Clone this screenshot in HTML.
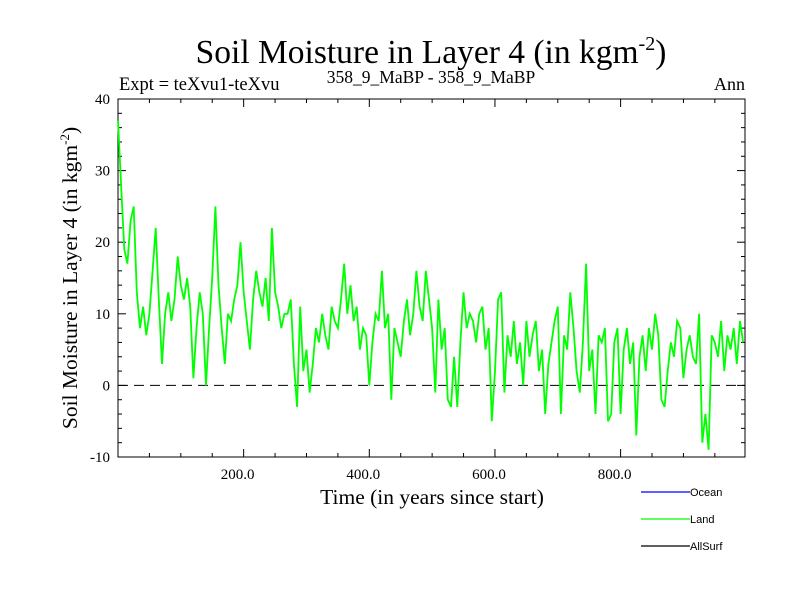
<!DOCTYPE html>
<html><head><meta charset="utf-8"><style>
body{margin:0;background:#fff;}
svg text{font-family:"Liberation Serif",serif;}
</style></head><body>
<svg id="chart" width="800" height="600" xmlns="http://www.w3.org/2000/svg">
<rect width="800" height="600" fill="#fff"/>
<text x="431" y="63" font-size="33.5" text-anchor="middle">Soil Moisture in Layer 4 (in kgm<tspan dy="-13" font-size="20">-2</tspan><tspan dy="13">)</tspan></text>
<text x="119" y="90" font-size="18.5">Expt = teXvu1-teXvu</text>
<text x="431" y="83" font-size="17.5" text-anchor="middle">358_9_MaBP - 358_9_MaBP</text>
<text x="745" y="90" font-size="18" text-anchor="end">Ann</text>
<text x="432" y="504" font-size="21.5" text-anchor="middle">Time (in years since start)</text>
<text transform="translate(77,278) rotate(-90)" font-size="21.5" text-anchor="middle">Soil Moisture in Layer 4 (in kgm<tspan dy="-8" font-size="13">-2</tspan><tspan dy="8">)</tspan></text>
<g id="axes"></g>
<g id="series"></g>
<g>
<line x1="641" y1="492" x2="690" y2="492" stroke="#0000ff" stroke-width="1.2"/>
<text x="690" y="496" font-size="11" style="font-family:'Liberation Sans',sans-serif">Ocean</text>
<line x1="641" y1="519" x2="690" y2="519" stroke="#00ff00" stroke-width="1.2"/>
<text x="690" y="523" font-size="11" style="font-family:'Liberation Sans',sans-serif">Land</text>
<line x1="641" y1="546" x2="690" y2="546" stroke="#000" stroke-width="1.2"/>
<text x="690" y="550" font-size="11" style="font-family:'Liberation Sans',sans-serif">AllSurf</text>
</g>
</svg>
<script>
const yTicks=[-10,0,10,20,30,40];
const xTicks=[200,400,600,800];
const xTickLabels=["200.0","400.0","600.0","800.0"];
const landStart=0, landStep=5;
const landValues=[37,28,19,17,23,25,13,8,11,7,
10,16,22,12,3,10,13,9,12,18,
14,12,15,11,1,8,13,10,0,8,
15,25,14,8,3,10,9,12,14,20,
13,9,5,12,16,13,11,15,9,22,
13,11,8,10,10,12,3,-3,11,2,
5,-1,3,8,6,10,7,5,11,9,
8,12,17,10,14,9,11,5,8,7,
0,6,10,9,16,8,10,-2,8,6,
4,9,12,7,10,16,11,9,16,12,
8,-1,12,5,8,-2,-3,4,-3,6,
13,8,10,9,6,10,11,5,8,-5,
2,12,13,-1,7,4,9,3,6,0,
9,4,7,9,2,5,-4,3,6,9,
11,-4,7,5,13,8,2,-1,6,17,
2,5,-4,7,6,8,-5,-4,6,8,
-4,5,8,3,6,-7,4,7,2,8,
5,10,7,-2,-3,2,6,4,9,8,
1,5,7,4,3,10,-8,-4,-9,7,
6,4,9,2,7,5,8,3,9,6];
</script>
<script>
const NS="http://www.w3.org/2000/svg";
const L=118,R=745,T=99,B=457,xMin=0,xMax=998,yMin=-10,yMax=40;
function sx(v){return L+(v-xMin)/(xMax-xMin)*(R-L);}
function sy(v){return B-(v-yMin)/(yMax-yMin)*(B-T);}
const ax=document.getElementById('axes');
function mk(tag,attrs,parent){const e=document.createElementNS(NS,tag);for(const k in attrs)e.setAttribute(k,attrs[k]);parent.appendChild(e);return e;}
const frame=mk('rect',{x:L,y:T,width:R-L,height:B-T,fill:'none',stroke:'#000','stroke-width':1},ax);


const zl=mk('line',{x1:L,x2:R,y1:sy(0),y2:sy(0),stroke:'#000','stroke-dasharray':'10,6','stroke-width':1},ax);


for(let v=yMin;v<=yMax;v+=2){const len=(v%10===0)?8:4;
mk('line',{x1:L,x2:L+len,y1:sy(v),y2:sy(v),stroke:'#000'},ax);
mk('line',{x1:R,x2:R-len,y1:sy(v),y2:sy(v),stroke:'#000'},ax);}
for(let v=50;v<xMax;v+=50){const len=(v%200===0)?8:4;
mk('line',{x1:sx(v),x2:sx(v),y1:B,y2:B-len,stroke:'#000'},ax);
mk('line',{x1:sx(v),x2:sx(v),y1:T,y2:T+len,stroke:'#000'},ax);}
yTicks.forEach(v=>{const t=mk('text',{x:L-8,y:sy(v)+5,'font-size':15,'text-anchor':'end'},ax);t.textContent=v;

});
xTicks.forEach((v,i)=>{const t=mk('text',{x:sx(v)-6,y:B+22,'font-size':15,'text-anchor':'middle'},ax);t.textContent=xTickLabels[i];

});
const pts=landValues.map((v,i)=>sx(landStart+i*landStep).toFixed(1)+','+sy(v).toFixed(1)).join(' ');
const pl=mk('polyline',{points:pts,fill:'none',stroke:'#00ff00','stroke-width':1.8},document.getElementById('series'));


</script>
</body></html>
